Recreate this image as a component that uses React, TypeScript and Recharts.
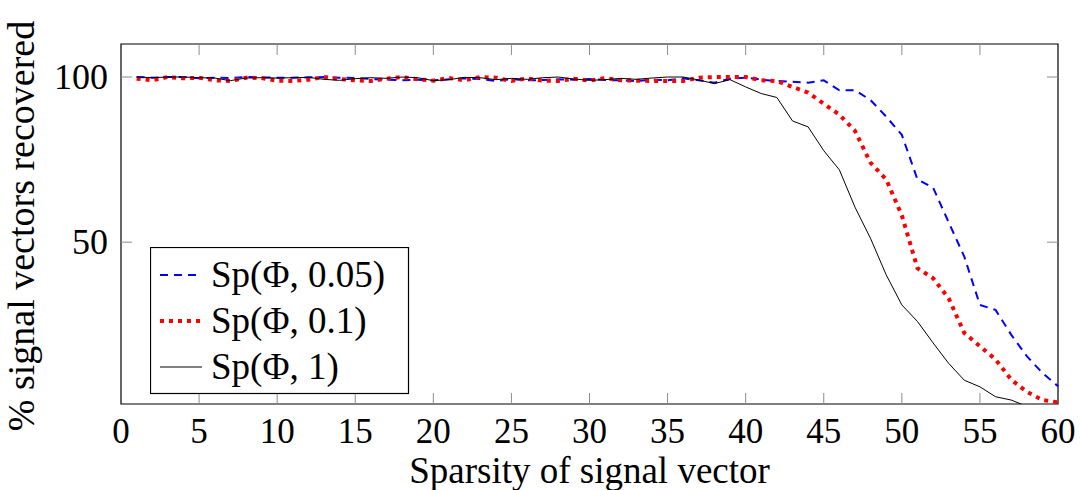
import { LineChart, Line, XAxis, YAxis, Legend, ReferenceArea } from 'recharts'

// sparsity k on the x axis
const sparsity = [
  1, 2, 3, 4, 5, 6, 7, 8, 9, 10, 11, 12, 13, 14, 15, 16, 17, 18, 19, 20,
  21, 22, 23, 24, 25, 26, 27, 28, 29, 30, 31, 32, 33, 34, 35, 36, 37, 38, 39, 40,
  41, 42, 43, 44, 45, 46, 47, 48, 49, 50, 51, 52, 53, 54, 55, 56, 57, 58, 59, 60,
]

// % recovered, Sp(Phi, 0.05)
const sp005 = [
  100, 99.8, 100, 100, 99.6, 99.8, 99.7, 100, 99.9, 99.8, 99.8, 99.9, 100, 99.8, 99.7, 99.4, 99.2, 99.0, 99.2, 99.0,
  99.3, 99.6, 99.4, 98.8, 99.4, 99.0, 99.1, 99.3, 99.2, 99.4, 99.1, 99.0, 98.8, 99.2, 99.0, 99.6, 99.0, 98.3, 99.5, 99.8,
  99.2, 98.8, 98.6, 98.3, 99.0, 96.0, 96.0, 93.0, 88.0, 82.5, 69.0, 66.5, 56.0, 45.6, 31.0, 29.5, 22.0, 15.5, 10.4, 6.4,
]

// % recovered, Sp(Phi, 0.1)
const sp01 = [
  99.5, 99.0, 100, 99.6, 99.8, 99.0, 98.8, 99.8, 99.7, 98.9, 98.8, 99.2, 100, 99.4, 99.0, 98.8, 99.5, 100, 99.3, 98.9,
  99.7, 99.0, 100, 99.8, 98.8, 99.6, 98.9, 98.8, 99.5, 98.9, 99.7, 99.0, 98.9, 98.8, 98.8, 98.8, 99.8, 100, 100, 100,
  99.0, 98.8, 97.0, 95.3, 91.9, 88.6, 83.7, 74.0, 69.0, 58.1, 42.1, 39.1, 33.0, 22.5, 18.5, 14.5, 8.4, 4.7, 2.2, 1.5,
]

// % recovered, Sp(Phi, 1)
const sp1 = [
  100, 99.8, 100, 100, 99.8, 99.7, 98.9, 99.7, 99.8, 99.7, 99.8, 99.9, 99.3, 99.0, 99.5, 99.8, 99.6, 100, 99.8, 98.9,
  99.2, 99.9, 99.8, 99.2, 99.6, 99.3, 99.8, 100, 99.4, 99.0, 99.2, 99.6, 99.3, 99.7, 100, 100, 99.1, 98.0, 99.2, 97.0,
  95.0, 93.8, 86.7, 84.9, 77.7, 71.9, 60.6, 51.1, 40.1, 31.0, 26.0, 19.5, 13.3, 8.2, 6.2, 3.2, 2.2, 0.3, 0, 0,
]

const xTicks = [0, 5, 10, 15, 20, 25, 30, 35, 40, 45, 50, 55, 60]
const yTicks = [50, 100]
const legendNames = ['Sp(Φ, 0.05)', 'Sp(Φ, 0.1)', 'Sp(Φ, 1)']

const data = sparsity.map((k, i) => ({ k, a: sp005[i], b: sp01[i], c: sp1[i] }))

const FONT = "'Liberation Serif', 'Times New Roman', serif"
const PLOT_W = 937
const PLOT_H = 360
const TICK = 11
const TICK_COLOR = '#8c8c8c'

const XTick = (props: any) => {
  const { x, y, payload } = props
  const inner = payload.value !== 0 && payload.value !== 60
  return (
    <g>
      {inner && <line x1={x} y1={y} x2={x} y2={y - TICK} stroke={TICK_COLOR} />}
      {inner && <line x1={x} y1={y - PLOT_H} x2={x} y2={y - PLOT_H + TICK} stroke={TICK_COLOR} />}
      <text x={x} y={y + 39} textAnchor="middle" fontSize={35} fontFamily={FONT} fill="#000">
        {payload.value}
      </text>
    </g>
  )
}

const YTick = (props: any) => {
  const { x, y, payload } = props
  return (
    <g>
      <line x1={x} y1={y} x2={x + TICK} y2={y} stroke={TICK_COLOR} />
      <line x1={x + PLOT_W} y1={y} x2={x + PLOT_W - TICK} y2={y} stroke={TICK_COLOR} />
      <text x={x - 13} y={y + 12} textAnchor="end" fontSize={36} fontFamily={FONT} fill="#000">
        {payload.value}
      </text>
    </g>
  )
}

const styles = [
  { stroke: '#0000ff', width: 2, dash: '8 6' },
  { stroke: '#ff0000', width: 4, dash: '4 5' },
  { stroke: '#000000', width: 1, dash: undefined },
]

const LegendBox = () => (
  <svg width={260} height={148} style={{ display: 'block' }}>
    <rect x={0.5} y={0.5} width={258} height={146} fill="#fff" stroke="#000" strokeWidth={1.2} />
    {legendNames.map((name, i) => (
      <g key={name}>
        <line
          x1={10}
          x2={52}
          y1={28 + i * 46}
          y2={28 + i * 46}
          stroke={styles[i].stroke}
          strokeWidth={styles[i].width}
          strokeDasharray={styles[i].dash}
        />
        <text x={61} y={40 + i * 46} fontSize={37} fontFamily={FONT} fill="#000">
          {name}
        </text>
      </g>
    ))}
  </svg>
)

export default function App() {
  return (
    <div style={{ position: 'absolute', left: 0, top: 0, width: 1080, height: 490, background: '#fff' }}>
      <LineChart width={1080} height={490} data={data} margin={{ top: 44, right: 22, bottom: 0, left: 0 }}>
        <XAxis
          dataKey="k"
          type="number"
          domain={[0, 60]}
          ticks={xTicks}
          interval={0}
          height={86}
          tickSize={0}
          tickMargin={0}
          tickLine={false}
          axisLine={false}
          tick={<XTick />}
          label={{
            content: () => (
              <text x={589.5} y={483} textAnchor="middle" fontSize={37} fontFamily={FONT} fill="#000">
                Sparsity of signal vector
              </text>
            ),
          }}
        />
        <YAxis
          type="number"
          domain={[1, 110]}
          allowDataOverflow
          ticks={yTicks}
          interval={0}
          width={121}
          tickSize={0}
          tickMargin={0}
          tickLine={false}
          axisLine={false}
          tick={<YTick />}
          label={{
            content: () => (
              <text
                transform="translate(34, 226) rotate(-90)"
                textAnchor="middle"
                fontSize={38}
                fontFamily={FONT}
                fill="#000"
              >
                % signal vectors recovered
              </text>
            ),
          }}
        />
        <ReferenceArea x1={0} x2={60} y1={1} y2={110} fill="none" stroke="#000" strokeWidth={1.2} ifOverflow="visible" />
        <Line dataKey="a" stroke={styles[0].stroke} strokeWidth={styles[0].width} strokeDasharray={styles[0].dash} dot={false} isAnimationActive={false} />
        <Line dataKey="b" stroke={styles[1].stroke} strokeWidth={styles[1].width} strokeDasharray={styles[1].dash} dot={false} isAnimationActive={false} />
        <Line dataKey="c" stroke={styles[2].stroke} strokeWidth={styles[2].width} dot={false} isAnimationActive={false} />
        <Legend
          layout="vertical"
          align="center"
          verticalAlign="middle"
          content={<LegendBox />}
          wrapperStyle={{ position: 'absolute', left: 150, top: 247, width: 260, height: 148 }}
        />
      </LineChart>
    </div>
  )
}
